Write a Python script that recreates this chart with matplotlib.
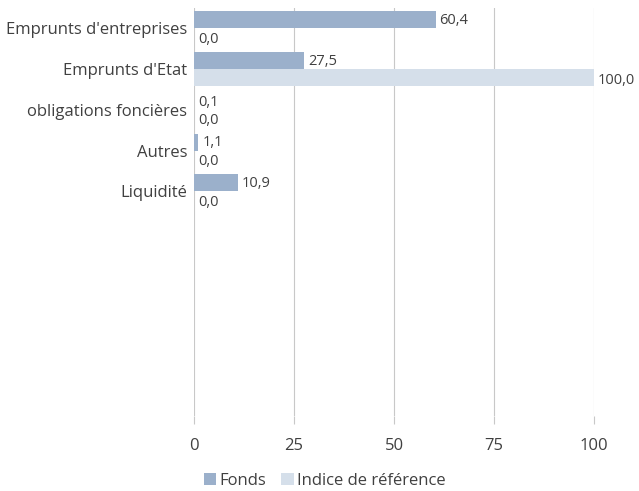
import matplotlib.pyplot as plt
import numpy as np

plt.rcParams['font.family'] = ['Open Sans', 'DejaVu Sans']

categories = ["Emprunts d'entreprises", "Emprunts d'Etat", "obligations foncières",
              "Autres", "Liquidité"]
fonds = [60.4, 27.5, 0.1, 1.1, 10.9]
indice = [0.0, 100.0, 0.0, 0.0, 0.0]
n_slots = 10  # chart keeps empty category slots below

c_fonds = '#9bb0cb'
c_indice = '#d5dfea'
txt = '#404040'

fig = plt.figure(figsize=(6.39, 4.91), dpi=100)
ax = fig.add_axes([0.3036, 0.153, 0.626, 0.831])

y = np.arange(len(categories))
h = 0.42
ax.barh(y - 0.21, fonds, height=h, color=c_fonds, label='Fonds', zorder=3)
ax.barh(y + 0.21, indice, height=h, color=c_indice, label='Indice de référence', zorder=3)

for i in range(len(categories)):
    ax.text(fonds[i] + 1.0, y[i] - 0.19, f'{fonds[i]:.1f}'.replace('.', ','),
            va='center', ha='left', fontsize=10.5, color=txt)
    ax.text(indice[i] + 1.0, y[i] + 0.27, f'{indice[i]:.1f}'.replace('.', ','),
            va='center', ha='left', fontsize=10.5, color=txt)

ax.set_ylim(n_slots - 0.5, -0.5)
ax.set_xlim(0, 100)
ax.set_yticks(y)
ax.set_yticklabels(categories, fontsize=12, color=txt)
ax.set_xticks([0, 25, 50, 75, 100])
ax.set_xticklabels(['0', '25', '50', '75', '100'], fontsize=12, color=txt)
ax.tick_params(axis='y', length=0, pad=5)
ax.tick_params(axis='x', length=6, color='#c8c8c8', pad=10)
ax.grid(axis='x', color='#c8c8c8', linewidth=0.8, zorder=0)
for s in ax.spines.values():
    s.set_visible(False)

fig.legend(loc='lower left', bbox_to_anchor=(0.295, -0.026), ncol=2, frameon=False,
           fontsize=12, handlelength=0.75, handleheight=0.75, handletextpad=0.2,
           columnspacing=0.9, labelcolor=txt)

fig.savefig('out.png', dpi=100)
